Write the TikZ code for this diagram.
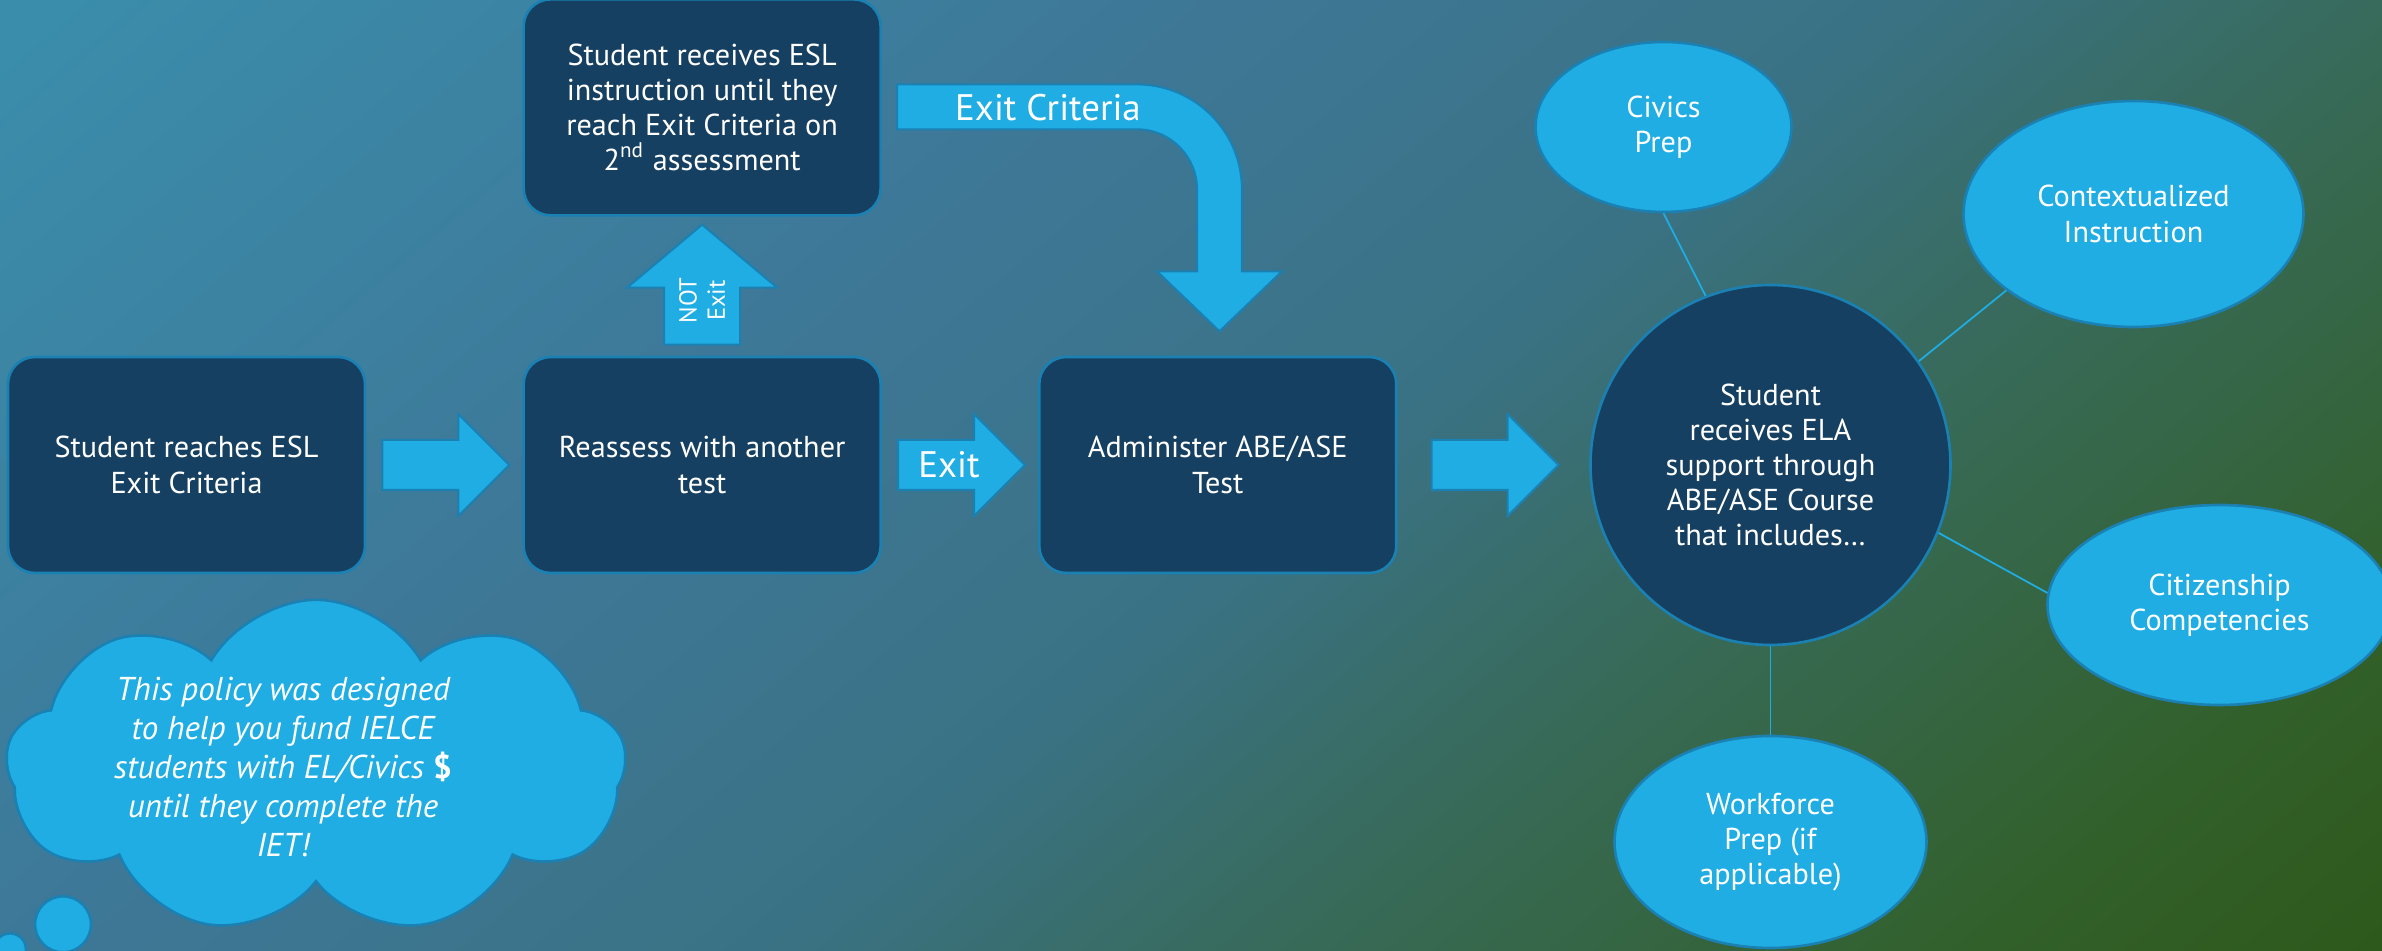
\documentclass[tikz,border=0pt]{standalone}
\usepackage{fontspec}
\setmainfont{PT Sans}
\usepackage{xcolor}
\usetikzlibrary{shapes,positioning,calc}

\definecolor{boxdark}{RGB}{22,64,97}
\definecolor{skyfill}{RGB}{31,173,227}
\definecolor{rimblue}{RGB}{27,128,178}
\definecolor{bgA}{RGB}{58,142,172}
\definecolor{bgB}{RGB}{62,120,152}
\definecolor{bgC}{RGB}{58,114,132}
\definecolor{bgD}{RGB}{56,107,92}
\definecolor{bgE}{RGB}{50,96,42}
\definecolor{bgF}{RGB}{46,89,28}
\pgfdeclarehorizontalshading{slidebg}{100bp}{color(0bp)=(bgA); color(27.5bp)=(bgA); color(42bp)=(bgB); color(52bp)=(bgC); color(58bp)=(bgD); color(67.5bp)=(bgE); color(72.6bp)=(bgF); color(100bp)=(bgF)}

\begin{document}
\begin{tikzpicture}[
    node distance=1.56cm,
    every node/.style={font=\fontsize{8.6}{10}\selectfont, text=white},
    stage/.style={rectangle, draw=rimblue, line width=0.75pt, fill=boxdark, minimum width=3.57cm, minimum height=2.16cm, rounded corners=0.27cm, align=center, inner sep=0pt},
    fatarrow/.style={single arrow, draw=rimblue, line width=0.6pt, fill=skyfill, minimum height=1.27cm, minimum width=1.0cm, single arrow head extend=0.26cm, inner sep=0pt, text height=0.37cm, text depth=0.11cm},
    uparrow/.style={single arrow, rotate=90, draw=rimblue, line width=0.6pt, fill=skyfill, minimum height=1.2cm, minimum width=1.5cm, single arrow head extend=0.37cm, single arrow tip angle=100, inner xsep=0pt, inner ysep=0.14cm, align=center, font=\fontsize{7}{8}\selectfont},
    fatbend/.style={draw=rimblue, line width=0.6pt, fill=skyfill},
    bigword/.style={font=\fontsize{10.5}{12}\selectfont},
    hub/.style={circle, draw=rimblue, line width=0.75pt, fill=boxdark, minimum size=3.6cm, align=center, inner sep=0pt},
    bubble/.style={ellipse, draw=rimblue, line width=0.75pt, fill=skyfill, align=center, inner sep=0pt},
    spoke/.style={skyfill, line width=0.5pt},
    thought/.style={cloud, cloud puffs=9, cloud puff arc=120, aspect=1.85, draw=rimblue, line width=0.75pt, fill=skyfill, minimum width=6.2cm, minimum height=3.35cm, inner sep=0pt},
    memotext/.style={align=center, font=\fontsize{9.4}{11.1}\selectfont\itshape},
    puff/.style={circle, draw=rimblue, line width=0.75pt, fill=skyfill, inner sep=0pt}
]

% slide background
\useasboundingbox (0,0) rectangle (23.82,-9.51);
\begin{scope}
\clip (0,0) rectangle (23.82,-9.51);
\shade[shading=slidebg, shading angle=-50] (-0.59,-17.255) rectangle ++(25,25);
\end{scope}

% main row
\node[stage] (reach) at (1.865,-4.65) {Student reaches ESL\\Exit Criteria};
\node[stage, right=of reach] (reassess) {Reassess with another\\test};
\node[stage, right=of reassess] (admin) {Administer ABE/ASE\\Test};
\node[stage, above=1.39cm of reassess] (instruct) {Student receives ESL\\instruction until they\\reach Exit Criteria on\\2\textsuperscript{nd} assessment};

% block arrows
\node[fatarrow, right=0.15cm of reach] (go1) {};
\node[fatarrow, bigword, right=0.15cm of reassess] (exitarrow) {Exit};
\node[fatarrow, right=0.33cm of admin] (go2) {};
\node[uparrow, anchor=tail] (notexit) at ($(reassess.north)+(0,0.1)$) {NOT\\Exit};

\draw[fatbend] ($(instruct.east)+(0.15,0.23)$) -- ++(2.40,0)
    arc[start angle=90, end angle=0, radius=1.05] -- ++(0,-0.82) -- ++(0.40,0)
    -- ++(-0.625,-0.60) -- ++(-0.625,0.60) -- ++(0.40,0) -- ++(0,0.82)
    arc[start angle=0, end angle=90, radius=0.60] -- ++(-2.40,0) -- cycle;
\node[bigword] (ecword) at ($(instruct.east)+(1.66,0.0)$) {Exit Criteria};

% ELA hub and its parts
\node[hub, right=0.29cm of go2] (ela) {Student\\receives ELA\\support through\\ABE/ASE Course\\that includes…};
\node[bubble, minimum width=2.56cm, minimum height=1.70cm] (civics) at ($(ela)+(-1.07,3.38)$) {Civics\\Prep};
\node[bubble, minimum width=3.40cm, minimum height=2.26cm] (context) at ($(ela)+(3.63,2.51)$) {Contextualized\\Instruction};
\node[bubble, minimum width=3.44cm, minimum height=2.00cm] (citizen) at ($(ela)+(4.49,-1.40)$) {Citizenship\\Competencies};
\node[bubble, minimum width=3.12cm, minimum height=2.12cm] (work) at ($(ela)+(0.0,-3.77)$) {Workforce\\Prep (if\\applicable)};

\draw[spoke] (ela.111) -- (civics.south);
\draw[spoke] (ela.35) -- (context.211);
\draw[spoke] (ela.-22) -- (citizen.176);
\draw[spoke] (ela.south) -- (work.north);

% thought cloud
\node[thought] (memo) at ($(reach.south)+(1.295,-1.93)$) {};
\node[memotext] (memotxt) at ($(memo.center)+(-0.33,0)$) {This policy was designed\\to help you fund IELCE\\students with EL/Civics \textup{\textbf{\$}}\\until they complete the\\IET!};
\node[puff, minimum size=0.56cm] (puffA) at ($(memo.center)+(-2.53,-1.57)$) {};
\node[puff, minimum size=0.32cm] (puffB) at ($(memo.center)+(-3.06,-1.82)$) {};

\end{tikzpicture}
\end{document}
